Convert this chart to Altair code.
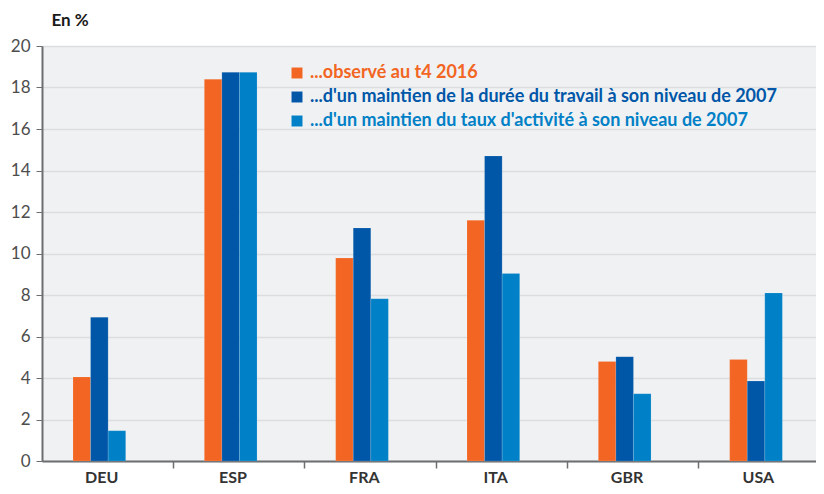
import altair as alt
import pandas as pd

countries = ["DEU", "ESP", "FRA", "ITA", "GBR", "USA"]
series = [
    "...observé au t4 2016",
    "...d'un maintien de la durée du travail à son niveau de 2007",
    "...d'un maintien du taux d'activité à son niveau de 2007",
]
observe = [4.05, 18.4, 9.78, 11.6, 4.8, 4.89]
duree = [6.93, 18.73, 11.23, 14.7, 5.03, 3.85]
activite = [1.46, 18.73, 7.82, 9.04, 3.24, 8.1]
colors = ["#f26522", "#0057a8", "#0080c6"]
y_ticks = [0, 2, 4, 6, 8, 10, 12, 14, 16, 18, 20]

rows = []
for s, vals in zip(series, [observe, duree, activite]):
    for c, v in zip(countries, vals):
        rows.append({"pays": c, "serie": s, "valeur": v})
df = pd.DataFrame(rows)

FONT = "Lato, 'DejaVu Sans', sans-serif"
AXIS_GREY = "#6d6e71"

chart = (
    alt.Chart(df)
    .mark_bar(stroke="#ffffff", strokeWidth=0.4, strokeOpacity=0.35)
    .encode(
        x=alt.X(
            "pays:N",
            sort=countries,
            scale=alt.Scale(paddingInner=0, paddingOuter=0, range=[0, 788]),
            axis=alt.Axis(
                title=None,
                labelAngle=0,
                bandPosition=1,
                labelOffset=-6,
                labelFont=FONT,
                labelFontSize=16,
                labelFontWeight="bold",
                labelColor="#333333",
                labelPadding=1,
                tickSize=7,
                tickWidth=1.5,
                tickColor=AXIS_GREY,
                domainColor=AXIS_GREY,
                domainWidth=2,
                grid=False,
            ),
        ),
        xOffset=alt.XOffset(
            "serie:N",
            sort=series,
            scale=alt.Scale(paddingInner=0, paddingOuter=0, range=[31, 83.7]),
        ),
        y=alt.Y(
            "valeur:Q",
            scale=alt.Scale(domain=[0, 20], nice=False),
            axis=alt.Axis(
                values=y_ticks,
                title="En %",
                titleAngle=0,
                titleX=9,
                titleY=-26,
                titleAlign="left",
                titleBaseline="middle",
                titleFont=FONT,
                titleFontSize=17,
                titleFontWeight="bold",
                titleColor="#1a1a1a",
                labelFont=FONT,
                labelFontSize=17,
                labelColor="#4d4d4d",
                labelPadding=6,
                tickSize=6,
                tickColor=AXIS_GREY,
                tickWidth=1,
                domainColor=AXIS_GREY,
                domainWidth=2,
                gridColor="#dcdde0",
                gridWidth=1.5,
            ),
        ),
        color=alt.Color(
            "serie:N",
            sort=series,
            scale=alt.Scale(domain=series, range=colors),
            legend=alt.Legend(
                title=None,
                orient="none",
                legendX=246,
                legendY=18,
                direction="vertical",
                symbolType="square",
                symbolSize=120,
                symbolStrokeWidth=0,
                labelFont=FONT,
                labelFontSize=18,
                labelFontWeight="bold",
                labelColor={"expr": "scale('color', datum.value)"},
                labelLimit=0,
                labelOffset=4,
                rowPadding=6,
                padding=0,
            ),
        ),
    )
    .properties(
        width=774,
        height=415,
        autosize=alt.AutoSizeParams(type="none"),
        padding={"left": 34, "top": 38, "right": 0, "bottom": 25},
        background="#ffffff",
    )
    .configure_view(fill="#f0f1f3", stroke=None)
)

chart.save("out.html", embed_options={"renderer": "svg", "actions": False})
